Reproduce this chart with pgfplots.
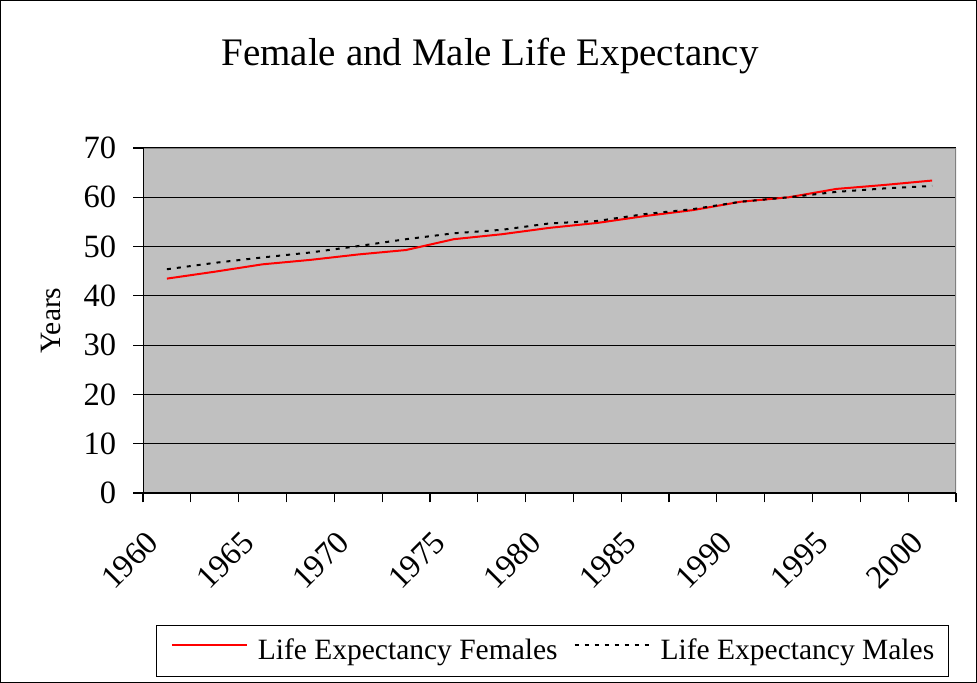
\documentclass[border=0pt]{standalone}
\usepackage{fontspec}
\setmainfont{Liberation Serif}
\usepackage{pgfplots}
\pgfplotsset{compat=1.18}
\definecolor{plotgray}{HTML}{C0C0C0}
\definecolor{framegray}{HTML}{808080}

% x = 0..16 stands for 1960, 1962.5, ..., 2000
\pgfplotstableread{
idx female male
0  43.5 45.4
1  44.9 46.7
2  46.4 47.8
3  47.3 48.8
4  48.4 50.1
5  49.3 51.5
6  51.5 52.7
7  52.5 53.4
8  53.8 54.7
9  54.8 55.2
10 56.2 56.6
11 57.4 57.6
12 59.1 59.1
13 60.0 60.0
14 61.7 61.1
15 62.5 61.8
16 63.4 62.3
}\lifedata

\begin{document}
\begin{tikzpicture}
\draw[line width=0.5pt, fill=white] (0.25pt,0.25pt) rectangle (488.25pt,341.25pt);
\begin{axis}[
    at={(71.5pt,95pt)}, anchor=south west,
    scale only axis,
    width=406.5pt, height=172.5pt,
    xmin=-0.5, xmax=16.5,
    ymin=0, ymax=70,
    ytick={0,10,20,30,40,50,60,70},
    xtick={-0.5,0.5,1.5,2.5,3.5,4.5,5.5,6.5,7.5,8.5,9.5,10.5,11.5,12.5,13.5,14.5,15.5,16.5},
    xticklabels={},
    extra x ticks={0,2,4,6,8,10,12,14,16},
    extra x tick labels={1960,1965,1970,1975,1980,1985,1990,1995,2000},
    extra x tick style={major tick length=0pt},
    xtick pos=bottom, ytick pos=left,
    tick align=outside,
    major tick length=4.75pt,
    tick style={black, line width=0.6pt},
    ymajorgrids,
    grid style={black, line width=0.6pt},
    axis background/.style={fill=plotgray},
    axis line style={draw=none},
    /pgf/number format/assume math mode=true,
    ticklabel style={font=\fontsize{16.25}{18}\selectfont},
    yticklabel style={anchor=east, inner sep=0pt, xshift=-8.5pt},
    xticklabel style={anchor=east, inner sep=0pt, xshift=-7pt, yshift=-22pt, rotate=45},
    ylabel={Years},
    ylabel style={at={(rel axis cs:-0.1132,0.5)}, anchor=center, rotate=0, font=\fontsize{14.75}{17}\selectfont},
    title={Female and Male Life Expectancy},
    title style={at={(rel axis cs:0.4268,1.203)}, anchor=base, font=\fontsize{19.5}{23}\selectfont},
    legend columns=2,
    legend style={at={(0.5037,-0.458)}, anchor=center, draw=black, line width=0.5pt,
        inner xsep=7pt, inner ysep=7pt,
        font=\fontsize{14.75}{17}\selectfont,
        nodes={inner sep=0pt},
        /tikz/every odd column/.append style={column sep=5pt},
        /tikz/every even column/.append style={column sep=8pt}},
    legend image code/.code={\draw[#1] (0pt,0.3em) -- (37.5pt,0.3em);},
]
\addplot[red, line width=1pt] table[x=idx, y=female] {\lifedata};
\addlegendentry{Life Expectancy Females}
\addplot[black, line width=1pt, dash pattern=on 2pt off 3pt] table[x=idx, y=male] {\lifedata};
\addlegendentry{Life Expectancy Males}
\draw[framegray, line width=0.6pt] (rel axis cs:0,1) -- (rel axis cs:1,1) -- (rel axis cs:1,0);
\draw[black, line width=0.6pt] (rel axis cs:0,1) -- (rel axis cs:0,0) -- (rel axis cs:1,0);
\end{axis}
\end{tikzpicture}
\end{document}
